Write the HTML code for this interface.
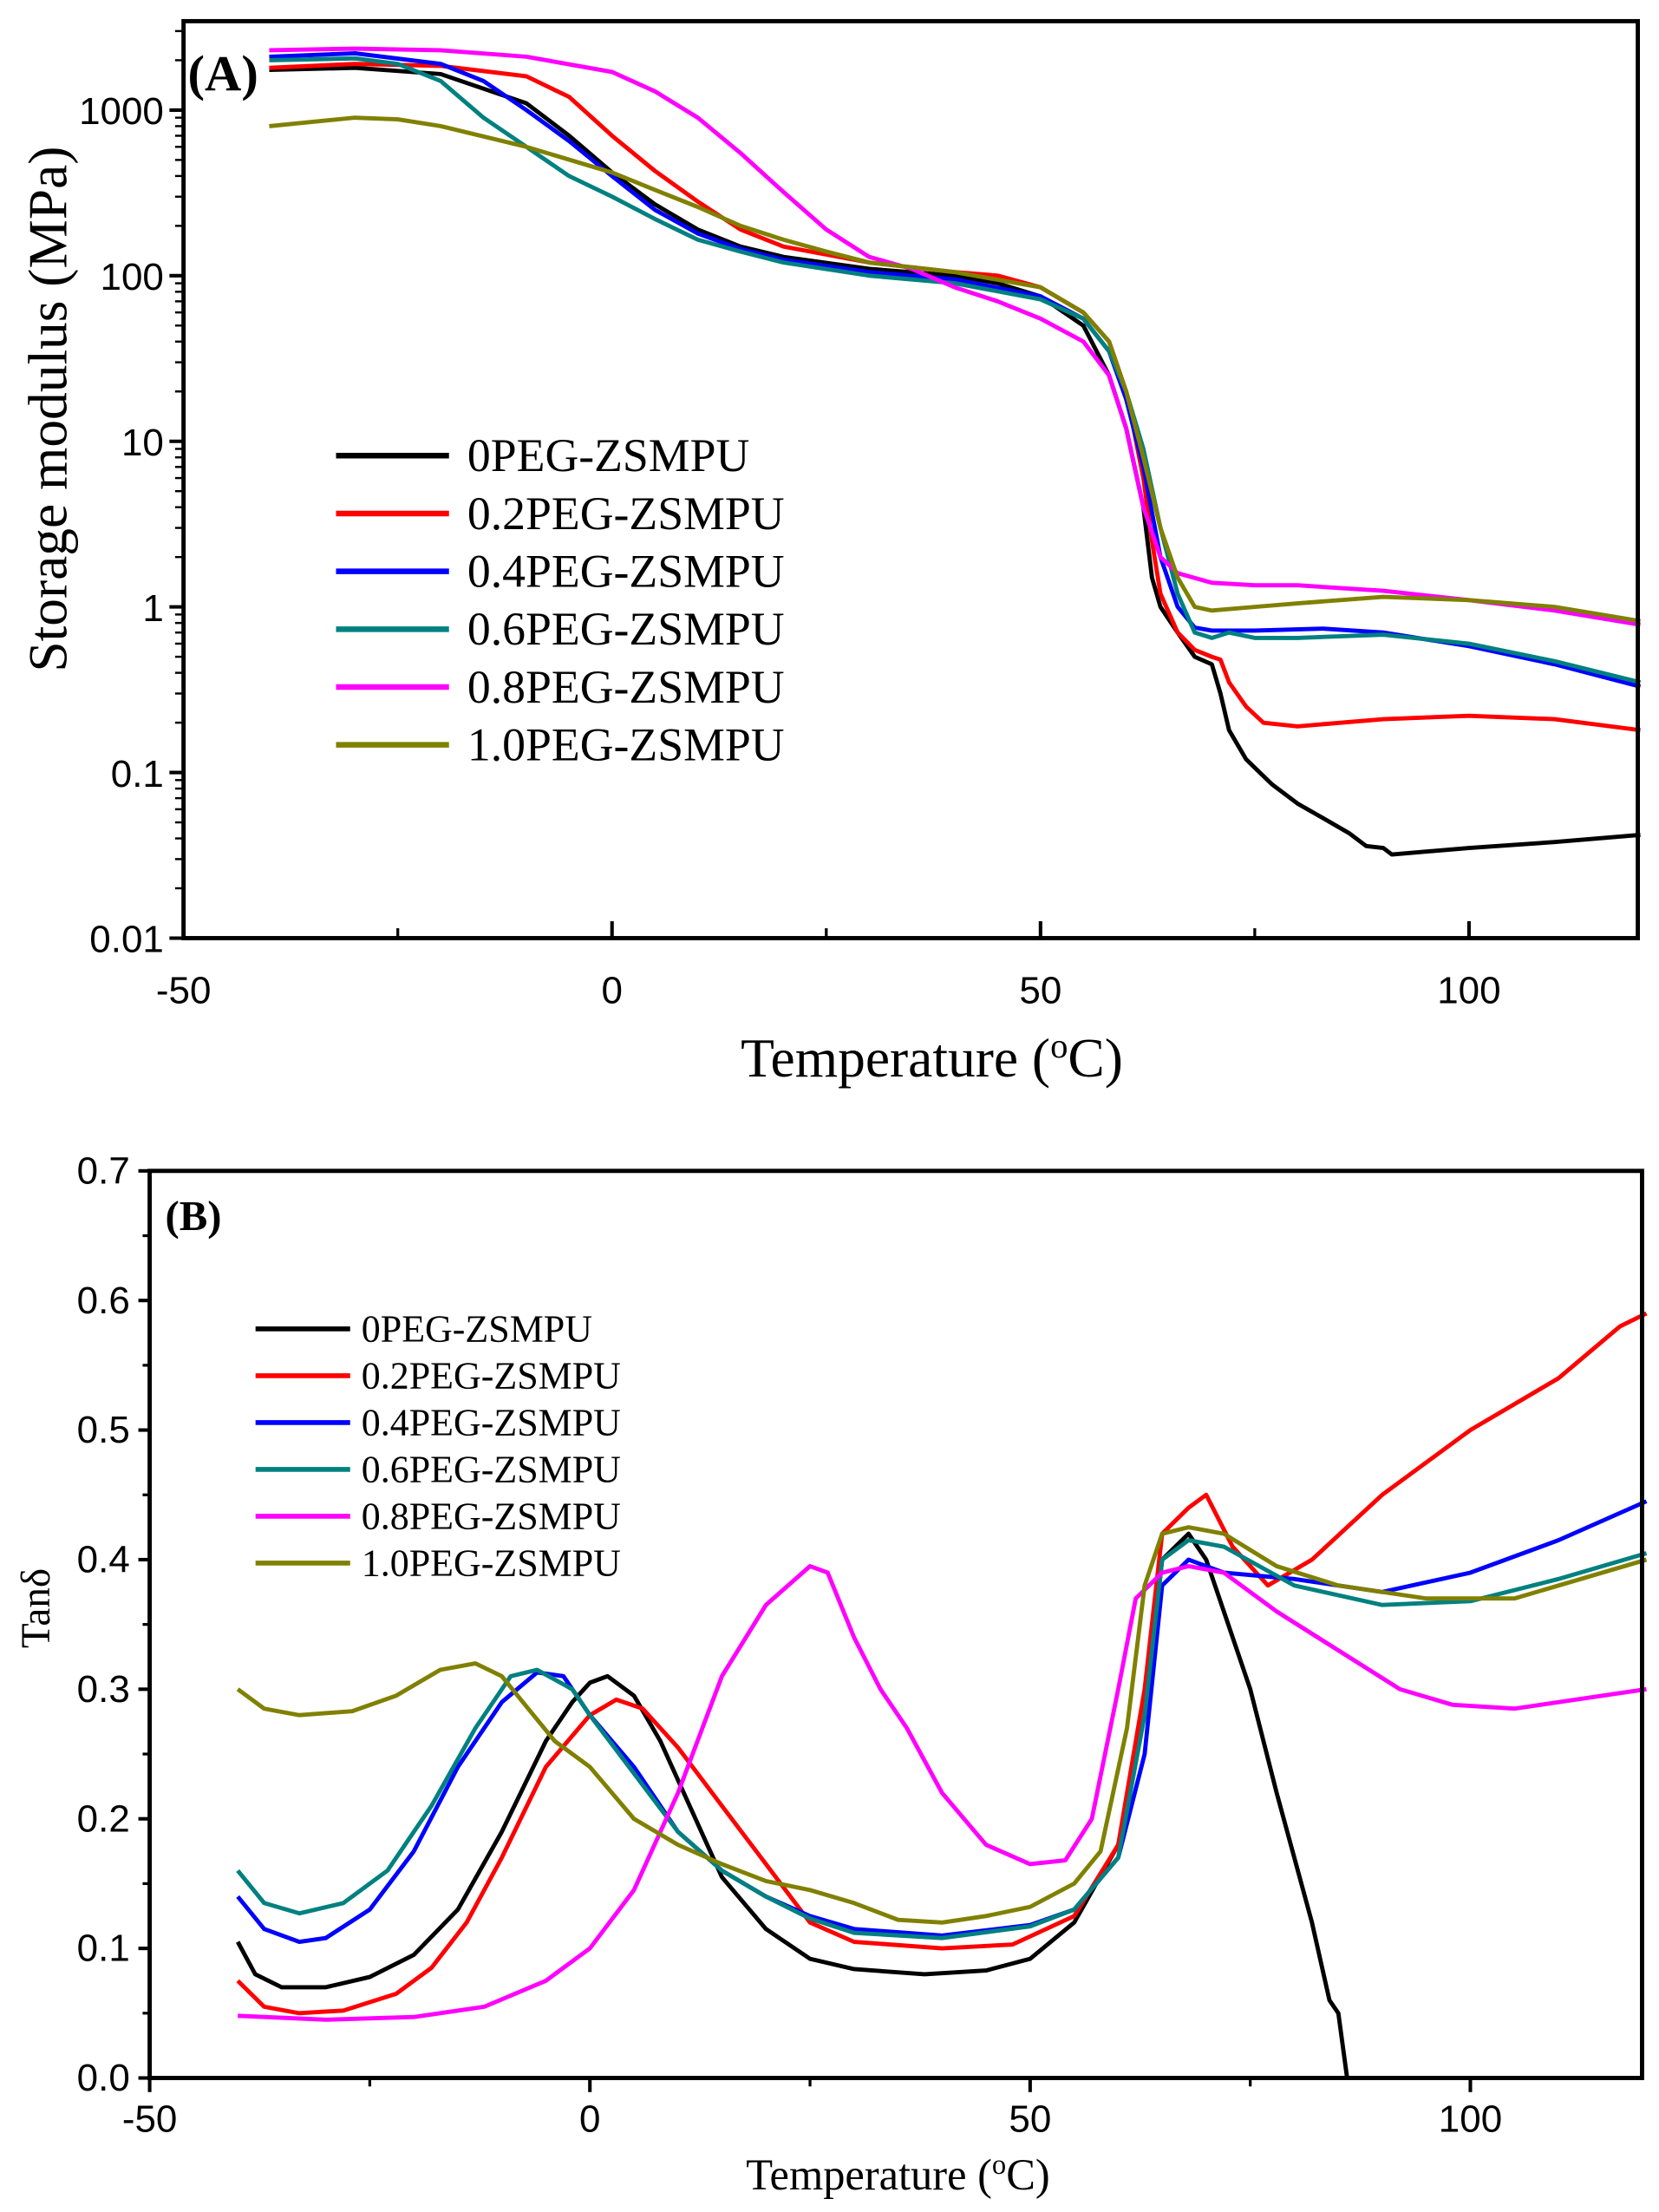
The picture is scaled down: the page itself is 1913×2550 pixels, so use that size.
<!DOCTYPE html>
<html><head><meta charset="utf-8"><style>
html,body{margin:0;padding:0;background:#fff;}
svg{display:block;}
.tk{font-family:"Liberation Sans",sans-serif;font-size:27px;fill:#000;}
.tt{font-family:"Liberation Serif",serif;fill:#000;}
</style></head><body>
<svg id="fig" width="1913" height="2550" viewBox="0 0 1175 1568" preserveAspectRatio="none" xmlns="http://www.w3.org/2000/svg"></svg>
<script>
// ---------- Panel A data (temperature °C, storage modulus MPa) ----------
const seriesNames = ["0PEG-ZSMPU","0.2PEG-ZSMPU","0.4PEG-ZSMPU","0.6PEG-ZSMPU","0.8PEG-ZSMPU","1.0PEG-ZSMPU"];
const seriesColors = ["#000000","#ff0000","#0000ff","#008080","#ff00ff","#808000"];
const aTicksX = [-50,0,50,100];
const aTicksY = [0.01,0.1,1,10,100,1000];
const aTickLabelsY = ["0.01","0.1","1","10","100","1000"];
const aT0 = [-40,-30,-20,-10,-5,0,5,10,15,20,30,40,45,50,55,58,60,62,63,64,66,68,70,71,72,74,77,80,83,86,88,90,91,100,110,120];
const aE0 = [1750,1800,1650,1100,700,420,270,190,150,130,110,100,90,75,50,25,12,4,1.5,1.0,0.7,0.5,0.45,0.3,0.18,0.12,0.085,0.065,0.053,0.043,0.036,0.035,0.032,0.035,0.038,0.042];
const aT1 = [-40,-30,-20,-10,-5,0,5,10,15,20,30,40,45,50,55,58,60,62,63,64,66,68,70,71,72,74,76,80,85,90,100,110,120];
const aE1 = [1800,1900,1850,1600,1200,700,430,280,190,150,120,105,100,85,60,40,20,6,2.5,1.2,0.7,0.55,0.5,0.48,0.35,0.25,0.2,0.19,0.2,0.21,0.22,0.21,0.18];
const aT2 = [-40,-30,-20,-15,-10,-5,0,5,10,15,20,30,40,50,55,58,60,62,64,66,68,70,75,83,90,100,110,120];
const aE2 = [2100,2200,1900,1500,1000,650,400,250,180,145,125,105,95,75,55,35,18,7,2,1.0,0.75,0.72,0.72,0.74,0.7,0.58,0.45,0.33];
const aT3 = [-40,-30,-25,-20,-15,-10,-5,0,5,10,15,20,30,40,50,55,58,60,62,64,66,68,70,72,75,80,90,100,110,120];
const aE3 = [2000,2050,1900,1500,900,600,400,300,220,165,140,120,100,90,72,55,35,20,9,3,1.2,0.7,0.65,0.7,0.65,0.65,0.68,0.6,0.47,0.35];
const aT4 = [-40,-30,-20,-10,0,5,10,15,20,25,30,35,40,45,50,55,58,60,62,64,66,70,75,80,90,100,110,120];
const aE4 = [2300,2350,2300,2100,1700,1300,900,550,320,190,130,110,85,70,55,40,25,12,4,2,1.6,1.4,1.35,1.35,1.25,1.1,0.95,0.78];
const aT5 = [-40,-30,-25,-20,-10,0,5,10,15,20,25,30,40,50,55,58,60,62,64,66,68,70,75,80,90,100,110,120];
const aE5 = [800,900,880,800,600,420,330,260,200,165,140,120,105,85,60,40,20,8,3,1.5,1.0,0.95,1.0,1.05,1.15,1.1,1.0,0.82];

// ---------- Panel B data (temperature °C, tan delta) ----------
const bTicksX = [-50,0,50,100];
const bTicksY = [0.0,0.1,0.2,0.3,0.4,0.5,0.6,0.7];
const bT0 = [-40,-38,-35,-30,-25,-20,-15,-10,-5,-2,0,2,5,8,12,15,20,25,30,38,45,50,55,60,63,65,68,70,72,75,78,80,82,84,85,86];
const bD0 = [0.105,0.08,0.07,0.07,0.078,0.095,0.13,0.19,0.26,0.29,0.305,0.31,0.295,0.26,0.2,0.155,0.115,0.092,0.084,0.08,0.083,0.092,0.12,0.18,0.28,0.4,0.42,0.4,0.36,0.3,0.22,0.17,0.12,0.06,0.05,0.0];
const bT1 = [-40,-37,-33,-28,-22,-18,-14,-10,-5,0,3,6,10,15,20,25,30,40,48,55,60,63,65,68,70,73,77,82,90,100,110,117,120];
const bD1 = [0.075,0.055,0.05,0.052,0.065,0.085,0.12,0.17,0.24,0.28,0.292,0.285,0.255,0.21,0.165,0.12,0.105,0.1,0.103,0.125,0.18,0.3,0.42,0.44,0.45,0.41,0.38,0.4,0.45,0.5,0.54,0.58,0.59];
const bT2 = [-40,-37,-33,-30,-25,-20,-15,-10,-6,-3,0,5,10,15,20,25,30,40,50,55,60,63,65,68,72,80,90,100,110,120];
const bD2 = [0.14,0.115,0.105,0.108,0.13,0.175,0.24,0.29,0.313,0.31,0.28,0.24,0.19,0.16,0.14,0.125,0.115,0.11,0.118,0.13,0.17,0.25,0.38,0.4,0.39,0.385,0.375,0.39,0.415,0.445];
const bT3 = [-40,-37,-33,-28,-23,-18,-13,-9,-6,-2,0,5,10,15,20,25,30,40,50,55,60,63,65,68,72,80,90,100,110,120];
const bD3 = [0.16,0.135,0.127,0.135,0.16,0.21,0.27,0.31,0.315,0.3,0.28,0.235,0.19,0.16,0.14,0.123,0.112,0.108,0.117,0.13,0.17,0.28,0.4,0.415,0.41,0.38,0.365,0.368,0.385,0.405];
const bT4 = [-40,-30,-20,-12,-5,0,5,10,15,20,25,27,30,33,36,40,45,50,54,57,60,62,65,68,72,78,85,92,98,105,110,120];
const bD4 = [0.048,0.045,0.047,0.055,0.075,0.1,0.145,0.22,0.31,0.365,0.395,0.39,0.34,0.3,0.27,0.22,0.18,0.165,0.168,0.2,0.3,0.37,0.39,0.395,0.39,0.36,0.33,0.3,0.288,0.285,0.29,0.3];
const bT5 = [-40,-37,-33,-27,-22,-17,-13,-10,-7,-4,0,5,10,15,20,25,30,35,40,45,50,55,58,61,63,65,68,72,78,85,95,105,120];
const bD5 = [0.3,0.285,0.28,0.283,0.295,0.315,0.32,0.31,0.285,0.26,0.24,0.2,0.18,0.165,0.152,0.145,0.135,0.122,0.12,0.125,0.132,0.15,0.175,0.27,0.38,0.42,0.425,0.42,0.395,0.38,0.37,0.37,0.4];

const NS = "http://www.w3.org/2000/svg";
const svg = document.getElementById("fig");
function mk(tag, attrs, parent){ const e=document.createElementNS(NS,tag); for(const k in attrs) e.setAttribute(k,attrs[k]); (parent||svg).appendChild(e); return e; }

// ---------- Panel A ----------
const A = {l:130,r:1160,t:15,b:665,x0:-50,x1:119.7,lmin:-2,lmax:3.537};
const axA = x => A.l + (x-A.x0)/(A.x1-A.x0)*(A.r-A.l);
const ayA = v => A.b - (Math.log10(v)-A.lmin)/(A.lmax-A.lmin)*(A.b-A.t);
const gA = mk("g",{});


const aT=[aT0,aT1,aT2,aT3,aT4,aT5], aE=[aE0,aE1,aE2,aE3,aE4,aE5];
for(let s=0;s<6;s++){
  const d = aT[s].map((t,i)=>(i?"L":"M")+axA(t).toFixed(1)+","+ayA(aE[s][i]).toFixed(1)).join(" ");
  const p = mk("path",{d:d,fill:"none",stroke:seriesColors[s],"stroke-width":3,"stroke-linejoin":"round"},gA);
  
  
}
const frA = mk("rect",{x:A.l,y:A.t,width:A.r-A.l,height:A.b-A.t,fill:"none",stroke:"#000","stroke-width":3},gA);


aTicksX.forEach(t=>{ const x=axA(t);
  mk("line",{x1:x,y1:A.b,x2:x,y2:A.b-12,stroke:"#000","stroke-width":2.5},gA);
  const tx=mk("text",{x:x,y:A.b+46,"text-anchor":"middle",class:"tk"},gA); tx.textContent=t;
  
  
});
[-25,25,75].forEach(t=>{ const x=axA(t); mk("line",{x1:x,y1:A.b,x2:x,y2:A.b-7,stroke:"#000","stroke-width":2},gA);});
aTicksY.forEach((v,i)=>{ const y=ayA(v);
  mk("line",{x1:A.l,y1:y,x2:A.l-10,y2:y,stroke:"#000","stroke-width":2.5},gA);
  const tx=mk("text",{x:A.l-14,y:y+10,"text-anchor":"end",class:"tk"},gA); tx.textContent=aTickLabelsY[i];
  
  
  for(let m=2;m<=9;m++){ const vv=v*m; if(Math.log10(vv)>A.lmax) break; const yy=ayA(vv); mk("line",{x1:A.l,y1:yy,x2:A.l-6,y2:yy,stroke:"#000","stroke-width":1.5},gA);}
});
let t;
t=mk("text",{x:660,y:763,"text-anchor":"middle",class:"tt","font-size":39},gA);
t.innerHTML='Temperature (<tspan baseline-shift="super" font-size="25">o</tspan>C)';


t=mk("text",{x:0,y:0,"text-anchor":"middle",class:"tt","font-size":39,transform:"translate(47,290) rotate(-90)"},gA);
t.textContent="Storage modulus (MPa)";


t=mk("text",{x:133,y:64,class:"tt","font-size":36,"font-weight":"bold"},gA);
t.textContent="(A)";


seriesNames.forEach((n,i)=>{ const y=323+i*41;
  const ln=mk("line",{x1:238,y1:y,x2:318,y2:y,stroke:seriesColors[i],"stroke-width":4},gA);
  
  
  const tx=mk("text",{x:331,y:y+11,class:"tt","font-size":33},gA); tx.textContent=n;
  
  
});

// ---------- Panel B ----------
const B = {l:106,r:1163,t:830,b:1473,x0:-50,x1:119.5,y0:0,y1:0.7};
const axB = x => B.l + (x-B.x0)/(B.x1-B.x0)*(B.r-B.l);
const ayB = v => B.b - (v-B.y0)/(B.y1-B.y0)*(B.b-B.t);
const gB = mk("g",{});


const bT=[bT0,bT1,bT2,bT3,bT4,bT5], bD=[bD0,bD1,bD2,bD3,bD4,bD5];
for(let s=0;s<6;s++){
  const d = bT[s].map((tt,i)=>(i?"L":"M")+axB(tt).toFixed(1)+","+ayB(bD[s][i]).toFixed(1)).join(" ");
  const p = mk("path",{d:d,fill:"none",stroke:seriesColors[s],"stroke-width":3,"stroke-linejoin":"round"},gB);
  
  
}
const frB = mk("rect",{x:B.l,y:B.t,width:B.r-B.l,height:B.b-B.t,fill:"none",stroke:"#000","stroke-width":3},gB);


bTicksX.forEach(tv=>{ const x=axB(tv);
  mk("line",{x1:x,y1:B.b,x2:x,y2:B.b+10,stroke:"#000","stroke-width":2.5},gB);
  const tx=mk("text",{x:x,y:B.b+38,"text-anchor":"middle",class:"tk","font-size":25},gB); tx.textContent=tv;
  
  
});
[-25,25,75].forEach(tv=>{ const x=axB(tv); mk("line",{x1:x,y1:B.b,x2:x,y2:B.b+6,stroke:"#000","stroke-width":2},gB);});
bTicksY.forEach(v=>{ const y=ayB(v);
  mk("line",{x1:B.l,y1:y,x2:B.l-8,y2:y,stroke:"#000","stroke-width":2.5},gB);
  if(v<0.7){ const ym=ayB(v+0.05); mk("line",{x1:B.l,y1:ym,x2:B.l-5,y2:ym,stroke:"#000","stroke-width":2},gB);}
  const tx=mk("text",{x:B.l-14,y:y+9,"text-anchor":"end",class:"tk","font-size":25},gB); tx.textContent=v.toFixed(1);
  
  
});
t=mk("text",{x:636,y:1552,"text-anchor":"middle",class:"tt","font-size":31},gB);
t.innerHTML='Temperature (<tspan baseline-shift="super" font-size="20">o</tspan>C)';


t=mk("text",{x:0,y:0,"text-anchor":"middle",class:"tt","font-size":29,transform:"translate(35,1140) rotate(-90)"},gB);
t.textContent="Tanδ";


t=mk("text",{x:117,y:872,class:"tt","font-size":30,"font-weight":"bold"},gB);
t.textContent="(B)";


seriesNames.forEach((n,i)=>{ const y=942+i*33.2;
  const ln=mk("line",{x1:181,y1:y,x2:248,y2:y,stroke:seriesColors[i],"stroke-width":3.5},gB);
  
  
  const tx=mk("text",{x:256,y:y+9,class:"tt","font-size":27},gB); tx.textContent=n;
  
  
});
</script>
</body></html>
